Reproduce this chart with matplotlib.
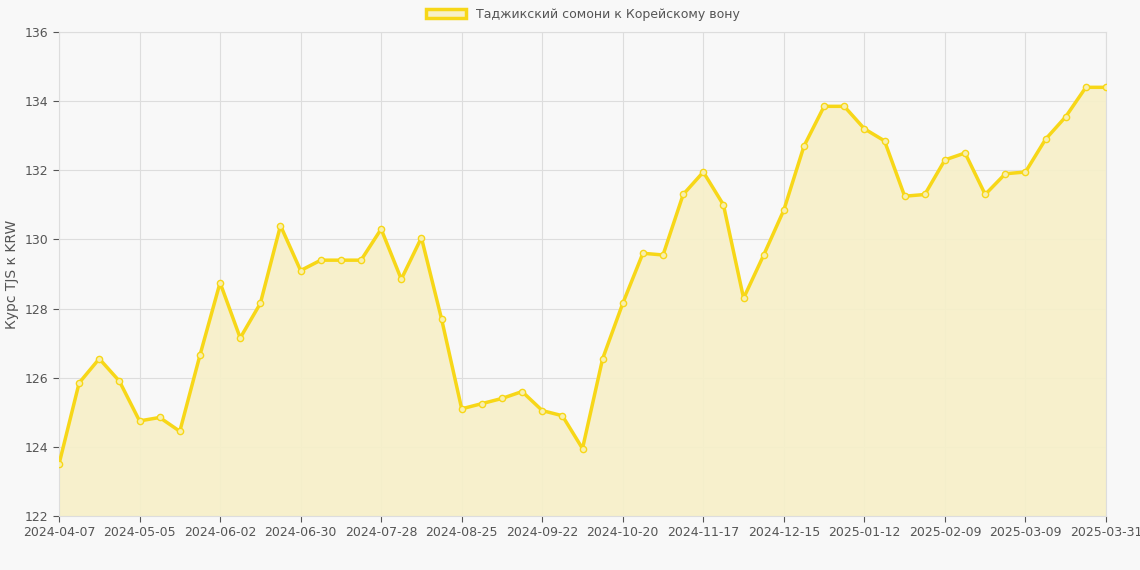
import datetime as dt
import matplotlib.pyplot as plt
from matplotlib.patches import Patch

start = dt.date(2024, 4, 7)
dates = [(start + dt.timedelta(weeks=i)).isoformat() for i in range(52)] + ['2025-03-31']
rates = [123.5, 125.85, 126.55, 125.9, 124.75, 124.85, 124.45, 126.65, 128.75, 127.15,
         128.15, 130.4, 129.1, 129.4, 129.4, 129.4, 130.3, 128.85, 130.05, 127.7,
         125.1, 125.25, 125.4, 125.6, 125.05, 124.9, 123.95, 126.55, 128.15, 129.6,
         129.55, 131.3, 131.95, 131.0, 128.3, 129.55, 130.85, 132.7, 133.85, 133.85,
         133.2, 132.85, 131.25, 131.3, 132.3, 132.5, 131.3, 131.9, 131.95, 132.9,
         133.55, 134.4, 134.4]

line_color = '#f7d718'
bg = '#f8f8f8'

fig = plt.figure(figsize=(11.4, 5.7), dpi=100, facecolor=bg)
ax = fig.add_axes([59 / 1140, 1 - 516 / 570, (1106 - 59) / 1140, (516 - 32) / 570])
ax.set_facecolor(bg)

x = list(range(len(rates)))
ax.fill_between(x, rates, 122, color='#f7f0c8', alpha=0.9, zorder=1)
ax.plot(x, rates, color=line_color, lw=2.5, marker='o', ms=4.5,
        mfc='#f7efb0', mec=line_color, mew=1.0, zorder=3)

ax.set_xlim(0, len(rates) - 1)
ax.set_ylim(122, 136)
ax.set_yticks(range(122, 137, 2))
ticks = list(range(0, 52, 4)) + [52]
ax.set_xticks(ticks)
ax.set_xticklabels([dates[i] for i in ticks])
ax.tick_params(colors='#555555', labelsize=9, length=4)
for t in ax.get_xticklines() + ax.get_yticklines():
    t.set_color('#dddddd')
ax.grid(True, color='#dddddd', lw=0.8)
ax.set_axisbelow(True)
for s in ax.spines.values():
    s.set_color('#dddddd')
ax.set_ylabel('Курс TJS к KRW', color='#555555', fontsize=10)

ax.legend(handles=[Patch(facecolor='#f7f0c8', edgecolor=line_color, lw=2.5,
                         label='Таджикский сомони к Корейскому вону')],
          loc='lower center', bbox_to_anchor=(0.5, 1.0), frameon=False,
          fontsize=9, labelcolor='#555555', handlelength=3.2)

fig.savefig('out.png', dpi=100, facecolor=bg)
